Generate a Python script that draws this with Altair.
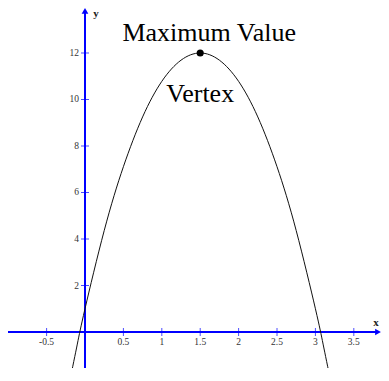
import altair as alt
import pandas as pd

# curve points (x, y)
curve_x = [-0.2, -0.1, 0.0, 0.25, 0.5, 0.75, 1.0, 1.25, 1.5, 1.75, 2.0, 2.25, 2.5, 2.75, 3.0, 3.1, 3.2]
curve_y = [-2.13, -0.52, 1.0, 4.36, 7.11, 9.25, 10.78, 11.69, 12.0, 11.69, 10.78, 9.25, 7.11, 4.36, 1.0, -0.52, -2.13]

x_ticks = [-0.5, 0.5, 1, 1.5, 2, 2.5, 3, 3.5]
x_tick_labels = ["-0.5", "0.5", "1", "1.5", "2", "2.5", "3", "3.5"]
y_ticks = [2, 4, 6, 8, 10, 12]
y_tick_labels = ["2", "4", "6", "8", "10", "12"]

vertex_x = [1.5]
vertex_y = [12]

x_min, x_max = -1.0026, 3.854
y_min, y_max = -1.548, 13.935
x_arrow = 3.815
y_arrow = 13.81

BLUE = "#0000ff"
SERIF = "Liberation Serif"

xs = alt.Scale(domain=[x_min, x_max], nice=False, zero=False)
ys = alt.Scale(domain=[y_min, y_max], nice=False, zero=False)

def X(field="x"):
    return alt.X(f"{field}:Q", scale=xs, axis=None)

def Y(field="y"):
    return alt.Y(f"{field}:Q", scale=ys, axis=None)

curve_df = pd.DataFrame({"x": curve_x, "y": curve_y})
xt_df = pd.DataFrame({"x": x_ticks, "y": [0] * len(x_ticks), "label": x_tick_labels})
yt_df = pd.DataFrame({"x": [0] * len(y_ticks), "y": y_ticks, "label": y_tick_labels})
vertex_df = pd.DataFrame({"x": vertex_x, "y": vertex_y})

xaxis_df = pd.DataFrame({"x": [x_min], "x2": [x_arrow], "y": [0]})
yaxis_df = pd.DataFrame({"x": [0], "y": [y_min], "y2": [y_arrow]})

x_axis_line = alt.Chart(xaxis_df).mark_rule(color=BLUE, strokeWidth=2).encode(
    x=X(), x2="x2:Q", y=Y()
)
y_axis_line = alt.Chart(yaxis_df).mark_rule(color=BLUE, strokeWidth=2).encode(
    x=X(), y=Y(), y2="y2:Q"
)
x_arrow_mark = alt.Chart(pd.DataFrame({"x": [x_arrow], "y": [0]})).mark_point(
    shape="triangle-right", filled=True, color=BLUE, size=45, opacity=1
).encode(x=X(), y=Y())
y_arrow_mark = alt.Chart(pd.DataFrame({"x": [0], "y": [y_arrow]})).mark_point(
    shape="triangle-up", filled=True, color=BLUE, size=45, opacity=1
).encode(x=X(), y=Y())

x_tick_marks = alt.Chart(xt_df).mark_tick(
    orient="vertical", color=BLUE, size=8, thickness=1
).encode(x=X(), y=Y())
y_tick_marks = alt.Chart(yt_df).mark_tick(
    orient="horizontal", color=BLUE, size=8, thickness=1
).encode(x=X(), y=Y())

x_tick_text = alt.Chart(xt_df).mark_text(
    font=SERIF, fontSize=9.5, color="#333333", dy=10, baseline="middle", align="center"
).encode(x=X(), y=Y(), text="label:N")
y_tick_text = alt.Chart(yt_df).mark_text(
    font=SERIF, fontSize=9.5, color="#333333", dx=-6, baseline="middle", align="right"
).encode(x=X(), y=Y(), text="label:N")

x_name = alt.Chart(pd.DataFrame({"x": [x_arrow], "y": [0], "t": ["x"]})).mark_text(
    font=SERIF, fontSize=11, fontWeight="bold", color="#222222", dx=-2, dy=-9,
    baseline="middle", align="center"
).encode(x=X(), y=Y(), text="t:N")
y_name = alt.Chart(pd.DataFrame({"x": [0], "y": [y_arrow], "t": ["y"]})).mark_text(
    font=SERIF, fontSize=11, fontWeight="bold", color="#222222", dx=11, dy=3,
    baseline="middle", align="center"
).encode(x=X(), y=Y(), text="t:N")

curve = alt.Chart(curve_df).mark_line(
    color="#111111", strokeWidth=1, interpolate="natural", clip=True
).encode(x=X(), y=Y(), order="x:Q")

vertex = alt.Chart(vertex_df).mark_point(
    filled=True, color="black", size=50, opacity=1
).encode(x=X(), y=Y())

max_label = alt.Chart(vertex_df.assign(t="Maximum Value")).mark_text(
    font=SERIF, fontSize=26, color="black", dx=9, dy=-12,
    baseline="alphabetic", align="center"
).encode(x=X(), y=Y(), text="t:N")
vertex_label = alt.Chart(vertex_df.assign(t="Vertex")).mark_text(
    font=SERIF, fontSize=26, color="black", dx=0, dy=49,
    baseline="alphabetic", align="center"
).encode(x=X(), y=Y(), text="t:N")

chart = alt.layer(
    x_axis_line, y_axis_line, x_tick_marks, y_tick_marks, x_arrow_mark, y_arrow_mark,
    x_tick_text, y_tick_text, x_name, y_name, curve, vertex, max_label, vertex_label
).properties(
    width=373, height=360, padding=0,
    autosize=alt.AutoSizeParams(type="none"),
    background="white",
).configure_view(stroke=None)

chart.save("out.html", embed_options={"renderer": "svg", "actions": False})
